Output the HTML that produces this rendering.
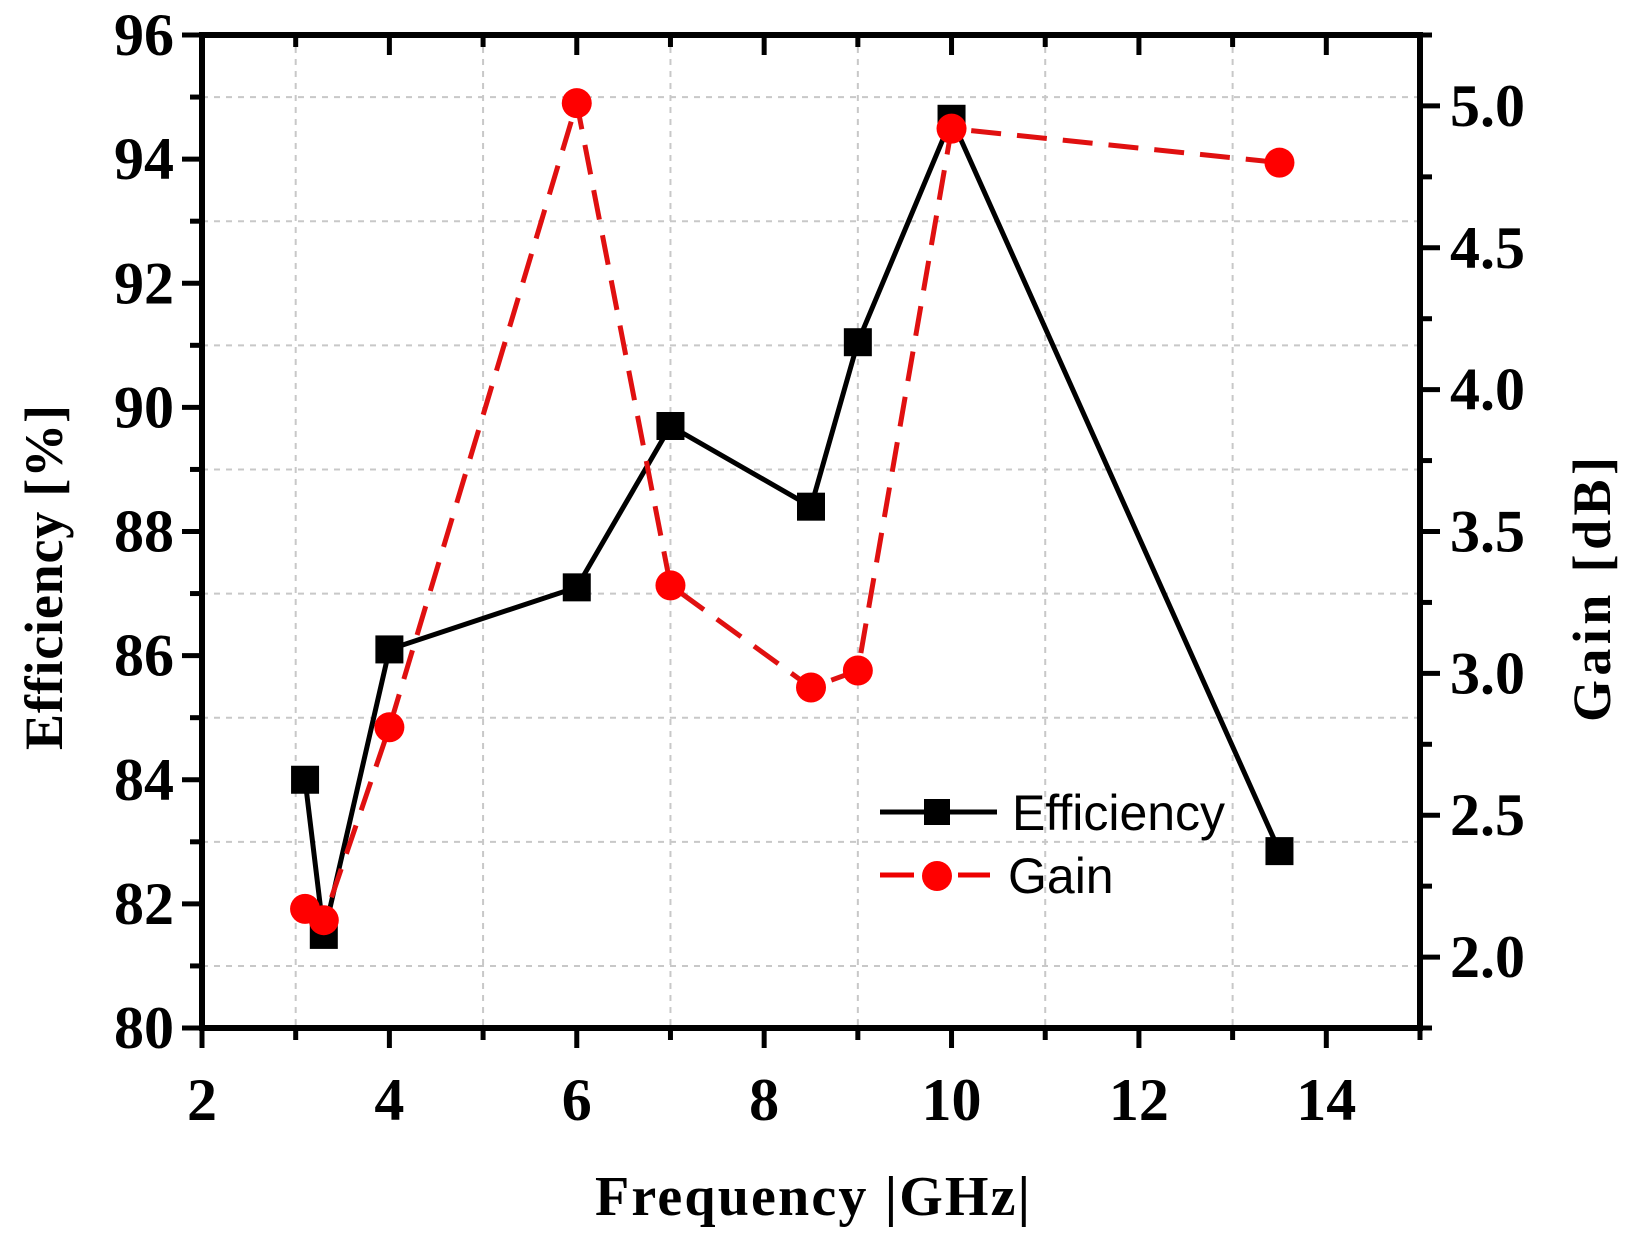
<!DOCTYPE html>
<html><head><meta charset="utf-8"><style>
html,body{margin:0;padding:0;background:#fff;}
svg{display:block;}
text{font-family:"Liberation Serif",serif;font-weight:bold;fill:#000;}
</style></head><body>
<svg id="chart" width="1631" height="1243" viewBox="0 0 1631 1243" xmlns="http://www.w3.org/2000/svg">
<g id="grid"></g>
<g id="series"></g>
<g id="axes"></g>
<text x="595" y="1215" font-size="56" textLength="435" lengthAdjust="spacing">Frequency |GHz|</text>
<text transform="translate(62,750) rotate(-90)" font-size="54" textLength="345" lengthAdjust="spacing">Efficiency [%]</text>
<text transform="translate(1610,722) rotate(-90)" font-size="54" textLength="265" lengthAdjust="spacing">Gain [dB]</text>
<g>
  <line x1="880" y1="812" x2="997" y2="812" stroke="#000" stroke-width="5"/>
  <rect x="924" y="799" width="26" height="26" fill="#000"/>
  <text x="1012" y="830" font-size="50" style="font-family:'Liberation Sans',sans-serif;font-weight:normal">Efficiency</text>
  <line x1="880" y1="875" x2="990" y2="875" stroke="#e00" stroke-width="5" stroke-dasharray="34 44"/>
  <circle cx="937" cy="876" r="15" fill="#f00"/>
  <text x="1008" y="893" font-size="50" style="font-family:'Liberation Sans',sans-serif;font-weight:normal">Gain</text>
</g>
</svg>
<script>
const freq = [3.1, 3.3, 4, 6, 7, 8.5, 9, 10, 13.5];
const efficiency = [84.0, 81.5, 86.1, 87.1, 89.7, 88.4, 91.05, 94.65, 82.85];
const gain = [2.17, 2.13, 2.81, 5.01, 3.31, 2.95, 3.01, 4.92, 4.80];
const xTicks = [2, 4, 6, 8, 10, 12, 14];
const yLeftTicks = [80, 82, 84, 86, 88, 90, 92, 94, 96];
const yRightTicks = ["2.0", "2.5", "3.0", "3.5", "4.0", "4.5", "5.0"];

const L=202, R=1420, T=35, B=1028;
const sx = v => L + (v-2)/(15-2)*(R-L);
const syL = v => B - (v-80)/(96-80)*(B-T);
const syR = v => B - (v-1.75)/(5.25-1.75)*(B-T);
const NS="http://www.w3.org/2000/svg";
function mk(parent, tag, attrs){const e=document.createElementNS(NS,tag);for(const k in attrs)e.setAttribute(k,attrs[k]);parent.appendChild(e);return e;}
const grid=document.getElementById('grid'), axes=document.getElementById('axes'), series=document.getElementById('series');

// grid at minor positions
for(let x=3;x<15;x+=2){const g=mk(grid,'line',{x1:sx(x),x2:sx(x),y1:T,y2:B,stroke:'#c8c8c8','stroke-width':2,'stroke-dasharray':'6 6'});

}
for(let y=81;y<96;y+=2){const g=mk(grid,'line',{x1:L,x2:R,y1:syL(y),y2:syL(y),stroke:'#c8c8c8','stroke-width':2,'stroke-dasharray':'6 6'});

}

// frame
const fr=mk(axes,'rect',{x:L,y:T,width:R-L,height:B-T,fill:'none',stroke:'#000','stroke-width':6});



// x ticks
for(let x=2;x<=15;x++){const len=(x%2===0)?20:12;
 const t=mk(axes,'line',{x1:sx(x),x2:sx(x),y1:B,y2:B+len,stroke:'#000','stroke-width':5});
 
 
 const t2=mk(axes,'line',{x1:sx(x),x2:sx(x),y1:T,y2:T+len,stroke:'#000','stroke-width':5});
 
 }
xTicks.forEach(v=>{const t=mk(axes,'text',{x:sx(v),y:B+92,'font-size':60,'text-anchor':'middle'});t.textContent=v;
 
 });

// left ticks
for(let y=80;y<=96;y++){const len=(y%2===0)?20:12;
 const t=mk(axes,'line',{x1:L-len,x2:L,y1:syL(y),y2:syL(y),stroke:'#000','stroke-width':5});
 
 }
yLeftTicks.forEach(v=>{const t=mk(axes,'text',{x:L-28,y:syL(v)+20,'font-size':60,'text-anchor':'end'});t.textContent=v;
 
 });

// right ticks
for(let i=0;i<=14;i++){const y=1.75+i*0.25;const len=(i%2===1)?20:12;
 const t=mk(axes,'line',{x1:R,x2:R+len,y1:syR(y),y2:syR(y),stroke:'#000','stroke-width':5});
 
 }
yRightTicks.forEach(v=>{const t=mk(axes,'text',{x:R+30,y:syR(parseFloat(v))+20,'font-size':60});t.textContent=v;
 
 });

// efficiency series
const ep=mk(series,'polyline',{points:freq.map((f,i)=>sx(f)+','+syL(efficiency[i])).join(' '),fill:'none',stroke:'#000','stroke-width':5});


freq.forEach((f,i)=>{const r=mk(series,'rect',{x:sx(f)-14,y:syL(efficiency[i])-14,width:28,height:28,fill:'#000'});
 
 });

// gain series
const gp=mk(series,'polyline',{points:freq.map((f,i)=>sx(f)+','+syR(gain[i])).join(' '),fill:'none',stroke:'#e01010','stroke-width':5,'stroke-dasharray':'30 16'});


freq.forEach((f,i)=>{const c=mk(series,'circle',{cx:sx(f),cy:syR(gain[i]),r:15,fill:'#f00'});
 
 });
</script>
</body></html>
